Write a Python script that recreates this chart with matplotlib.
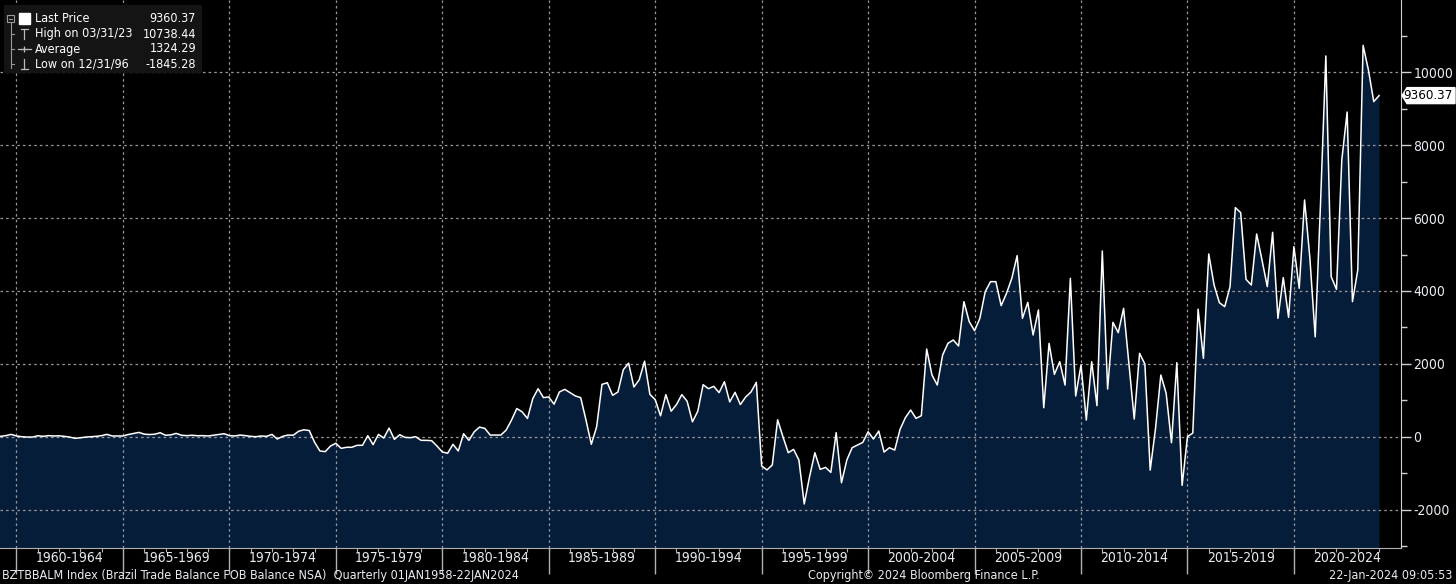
import numpy as np
import matplotlib
matplotlib.use('Agg')
import matplotlib.pyplot as plt
import matplotlib.transforms as mtransforms
from matplotlib.patches import Rectangle, Polygon

plt.rcParams['font.family'] = ['DejaVu Sans']
plt.rcParams['font.stretch'] = 'condensed'
plt.rcParams['axes.unicode_minus'] = False

# quarterly trade balance, first value = quarter ending 31 Dec 1958, last = Q4 2023
balance_1959_1973 = [20, 10, 30, 64, 20, 0, -10, -10, 27, 10, 30, 20, 25, 10, -10, -45,
                     -30, -10, 0, 10, 30, 64, 20, 20, 20, 60, 90, 118, 70, 60, 70, 109,
                     40, 50, 91, 40, 30, 40, 27, 30, 20, 40, 60, 82, 30, 20, 45, 30,
                     10, 0, 20, 10, 64, -64, 10, 45, 40, 150, 190, 170, -150]
balance_1974_1986 = [-390, -410, -255, -180, -320, -290, -290, -236, -236, 27, -218, 64,
                     -36, 236, -73, 55, -18, -27, 0, -100, -100, -109, -255, -418, -455,
                     -209, -390, 82, -100, 136, 264, 227, 45, 45, 45, 182, 455, 773, 682,
                     500, 1045, 1318, 1073, 1091, 891, 1227, 1300, 1209, 1118, 1073]
balance_1986_1994 = [455, -209, 273, 1436, 1482, 1136, 1227, 1836, 2018, 1364, 1564, 2073,
                     1164, 1018, 573, 1155, 700, 882, 1155, 973, 409, 700, 1427, 1318,
                     1382, 1209, 1509, 955, 1218, 882, 1091, 1227, 1491]
balance_1995_2005 = [-800, -912, -775, 465, 0, -439, -348, -640, -1845.28, -1098, -439,
                     -897, -842, -979, 110, -1263, -640, -302, -229, -156, 137, -64, 156,
                     -421, -302, -366, 201, 522, 732, 503, 576, 2406, 1693, 1418, 2242,
                     2562, 2654, 2489, 3706, 3157, 2910, 3248, 3980, 4255, 4255]
balance_2006_2014 = [3596, 3935, 4346, 4968, 3248, 3687, 2791, 3477, 796, 2562, 1711, 2059,
                     1418, 4346, 1116, 1967, 458, 2059, 851, 5097, 1308, 3138, 2855, 3523,
                     2013, 485, 2288, 1995, -915, 229, 1693, 1190, -165, 2031, -1336, 0, 100]
balance_2015_2023 = [3500, 2150, 5014, 4163, 3678, 3569, 4118, 6286, 6149, 4319, 4163, 5563,
                     4850, 4118, 5609, 3248, 4365, 3276, 5216, 4072, 6497, 4900, 2740, 6400,
                     10449, 4392, 4044, 7595, 8910, 3706, 4575, 10738.44, 10065, 9196, 9360.37]

values = np.array(balance_1959_1973 + balance_1974_1986 + balance_1986_1994
                  + balance_1995_2005 + balance_2006_2014 + balance_2015_2023)
dates = 1959.0 + np.arange(len(values)) / 4.0

periods = ['1960-1964', '1965-1969', '1970-1974', '1975-1979', '1980-1984', '1985-1989',
           '1990-1994', '1995-1999', '2000-2004', '2005-2009', '2010-2014', '2015-2019',
           '2020-2024']
period_starts = [1960 + 5 * k for k in range(len(periods))]

legend_rows = [('Last Price', '9360.37'), ('High on 03/31/23', '10738.44'),
               ('Average', '1324.29'), ('Low on 12/31/96', '-1845.28')]

txt = '#e8ecf2'
grid_c = '#9a9a9a'
fill_c = '#061d3a'
fs = 10
fs_small = 9

fig = plt.figure(figsize=(14.56, 5.84), dpi=100, facecolor='black')
ax = fig.add_axes([0, 36 / 584, 1401 / 1456, 548 / 584], facecolor='black')

ymin = -3054
ax.fill_between(dates, values, ymin, color=fill_c, lw=0, zorder=1)
ax.plot(dates, values, color='white', lw=1.1, zorder=3)

ax.set_xlim(1959.225, 2025.03)
ax.set_ylim(ymin, 11984)

ax.yaxis.tick_right()
ax.set_yticks(np.arange(-2000, 10001, 2000))
ax.set_yticks(np.arange(-3000, 11001, 1000), minor=True)
ax.tick_params(axis='y', which='major', length=7, width=1, color='#d0d0d0',
               labelcolor=txt, labelsize=fs, pad=2)
ax.tick_params(axis='y', which='minor', length=4, width=1, color='#d0d0d0')

ax.set_xticks(period_starts)
ax.set_xticks(np.arange(1960, 2025), minor=True)
ax.set_xticklabels([])
ax.tick_params(axis='x', which='major', length=19, width=1, color='#b0b0b0', direction='out')
ax.tick_params(axis='x', which='minor', length=3, width=0.8, color='#b0b0b0', direction='out')

ax.set_axisbelow(False)
ax.grid(True, which='major', color=grid_c, lw=0.9, linestyle=(0, (2, 2.5)))

for s in ['left', 'top']:
    ax.spines[s].set_visible(False)
ax.spines['right'].set_color('#d0d0d0')
ax.spines['bottom'].set_color('#b0b0b0')

trans = mtransforms.blended_transform_factory(ax.transData, ax.transAxes)
for start, lab in zip(period_starts, periods):
    ax.text(start + 2.5, -0.006, lab, transform=trans, ha='center', va='top',
            color=txt, fontsize=fs)

# last price tag, drawn in pixels next to the right axis
tx, ty = ax.transData.transform((2025.03, values[-1]))
tag = Polygon([(tx + 1, ty), (tx + 6, ty + 8), (1455, ty + 8), (1455, ty - 8), (tx + 6, ty - 8)],
              closed=True, fc='white', ec='white', transform=mtransforms.IdentityTransform())
fig.patches.append(tag)
fig.text(1453 / 1456, ty / 584, '%.2f' % values[-1], color='black', fontsize=fs_small + 0.5,
         ha='right', va='center')

fig.text(2 / 1456, 8 / 584,
         'BZTBBALM Index (Brazil Trade Balance FOB Balance NSA)  Quarterly 01JAN1958-22JAN2024',
         color=txt, fontsize=fs_small, ha='left', va='center')
fig.text(924 / 1456, 8 / 584, 'Copyright\u00a9 2024 Bloomberg Finance L.P.',
         color=txt, fontsize=fs_small, ha='center', va='center')
fig.text(1452 / 1456, 8 / 584, '22-Jan-2024 09:05:53', color=txt, fontsize=fs_small,
         ha='right', va='center')

# legend box
lg = fig.add_axes([4 / 1456, 1 - 73 / 584, 198 / 1456, 68 / 584], facecolor='#141414')
lg.set_xlim(0, 198)
lg.set_ylim(68, 0)
lg.set_xticks([])
lg.set_yticks([])
for s in lg.spines.values():
    s.set_visible(False)
row_y = [14, 29, 44, 59]
lg.add_patch(Rectangle((3, 10), 7, 7, fill=False, ec='#9a9a9a', lw=0.8))
lg.plot([4.5, 8.5], [13.5, 13.5], color='#9a9a9a', lw=0.8)
lg.plot([6.5, 6.5], [17, 63], color='#9a9a9a', lw=0.8)
for y in row_y[1:]:
    lg.plot([6.5, 10], [y, y], color='#9a9a9a', lw=0.8)
lg.add_patch(Rectangle((15, 8), 11, 11, color='white'))
lg.plot([20.5, 20.5], [24, 34], color='#bbbbbb', lw=0.9)
lg.plot([17, 24], [24, 24], color='#bbbbbb', lw=0.9)
lg.plot([14, 27], [44, 44], color='#bbbbbb', lw=0.9)
lg.plot([20.5], [44], marker='+', color='#bbbbbb', ms=5, mew=0.9)
lg.plot([20.5, 20.5], [54, 64], color='#bbbbbb', lw=0.9)
lg.plot([17, 24], [64, 64], color='#bbbbbb', lw=0.9)
for y, (name, val) in zip(row_y, legend_rows):
    lg.text(31, y, name, color='white', fontsize=fs_small, va='center', ha='left')
    lg.text(192, y, val, color='white', fontsize=fs_small, va='center', ha='right')

fig.savefig('out.png', dpi=100, facecolor='black')
